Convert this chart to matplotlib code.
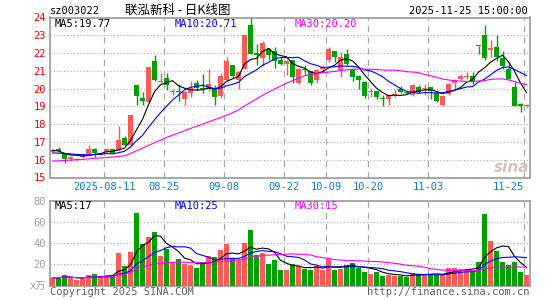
import numpy as np
import pandas as pd
import matplotlib
matplotlib.use("Agg")
import matplotlib.pyplot as plt

# 联泓新科 sz003022 daily candles, 2025-07-29 .. 2025-11-25 (80 trading days)
open_ = [16.45, 16.58, 16.35, 16.03, 15.99, 16.16, 16.32, 16.63, 16.30, 16.45,
         16.63, 16.53, 17.22, 16.85, 20.20, 19.47, 19.25, 21.55, 20.38, 20.60,
         19.82, 19.86, 19.40, 19.75, 20.32, 20.03, 20.00, 20.00, 19.60, 20.50,
         21.30, 20.50, 21.13, 23.60, 22.00, 21.70, 22.20, 22.10, 21.62, 21.40,
         21.60, 20.30, 21.13, 20.98, 20.48, 21.09, 21.60, 22.10, 21.04, 21.97,
         21.12, 20.70, 20.37, 19.82, 19.85, 19.46, 19.44, 19.64, 20.00, 19.79,
         19.62, 20.09, 20.00, 20.09, 19.77, 19.07, 19.72, 20.34, 20.56, 20.67,
         20.69, 22.40, 23.00, 22.16, 22.34, 21.70, 21.12, 20.10, 19.12, 19.00]
high = [16.60, 16.70, 16.37, 16.20, 16.08, 16.32, 16.82, 16.64, 16.40, 16.65,
        16.66, 17.88, 17.35, 18.52, 20.22, 19.81, 21.23, 21.90, 20.85, 20.85,
        20.00, 20.25, 19.85, 20.45, 20.50, 20.80, 21.10, 20.20, 20.85, 21.75,
        21.35, 21.00, 23.02, 23.95, 22.50, 22.65, 22.30, 22.35, 21.75, 21.62,
        21.62, 21.15, 21.30, 21.00, 21.10, 21.30, 22.35, 22.12, 22.05, 22.25,
        21.15, 20.75, 20.40, 20.05, 19.88, 19.62, 19.65, 19.90, 20.13, 19.85,
        20.28, 20.19, 20.28, 20.10, 19.80, 19.62, 20.30, 20.56, 20.84, 20.94,
        20.94, 22.41, 23.56, 22.72, 23.00, 22.10, 21.50, 20.37, 19.20, 19.12]
low = [16.42, 16.45, 15.82, 15.95, 15.92, 16.10, 16.30, 16.16, 16.25, 16.42,
       16.30, 16.50, 16.80, 16.80, 19.05, 19.06, 19.20, 20.45, 20.30, 19.90,
       19.65, 19.30, 19.05, 19.50, 19.90, 19.75, 19.85, 19.05, 19.45, 20.45,
       20.60, 20.00, 21.10, 21.95, 21.35, 21.25, 21.60, 21.15, 21.30, 20.75,
       20.30, 20.25, 20.76, 20.20, 20.30, 20.90, 21.50, 21.50, 20.65, 21.35,
       20.40, 20.00, 19.45, 19.50, 19.40, 19.00, 19.05, 19.53, 19.78, 19.70,
       19.60, 19.78, 19.62, 19.44, 19.25, 19.02, 19.62, 20.00, 20.47, 20.56,
       20.28, 21.97, 21.60, 21.80, 21.55, 21.12, 20.52, 19.00, 18.70, 18.95]
close = [16.55, 16.48, 16.03, 16.15, 16.05, 16.30, 16.63, 16.35, 16.38, 16.60,
         16.35, 17.10, 16.84, 18.52, 19.60, 19.30, 21.23, 20.50, 20.45, 20.20,
         19.86, 19.80, 19.80, 20.05, 20.06, 19.98, 20.25, 19.53, 20.70, 21.55,
         20.70, 20.93, 23.02, 21.97, 21.90, 22.57, 21.88, 21.55, 21.40, 21.55,
         20.68, 21.10, 21.04, 20.33, 21.04, 21.22, 22.20, 21.75, 21.80, 21.41,
         20.66, 20.47, 19.58, 19.88, 19.55, 19.42, 19.62, 19.68, 19.82, 19.76,
         20.19, 19.82, 20.05, 19.85, 19.30, 19.58, 20.28, 20.47, 20.69, 20.71,
         20.37, 22.38, 21.70, 22.27, 21.78, 21.25, 20.55, 19.03, 19.00, 19.05]
# volume, 万手
volume = [7.5, 7, 10, 7, 5.5, 7, 10, 11, 8, 9,
          8.5, 31, 18, 32, 69, 39, 46, 51, 28, 35,
          22, 25, 20, 19.5, 17, 22, 28, 27, 34, 39,
          25.5, 24, 40, 53, 29, 31, 20.5, 24, 15, 15,
          20.5, 18, 16, 15, 18, 15, 25, 15, 16, 19.5,
          21, 17, 13, 11, 13, 9, 10, 9, 9, 8.5,
          12, 11, 11, 11, 10, 10, 17, 17, 16, 15,
          13, 22, 68, 42, 33, 22, 19, 22, 13, 10]

# moving averages before enough history is on screen
ma5_head = [16.53, 16.49, 16.36, 16.26]
ma10_head = [16.38, 16.37, 16.35, 16.33, 16.30, 16.28, 16.28, 16.30, 16.30]
ma30_head = [15.92, 15.94, 15.96, 15.98, 16.00, 16.02, 16.05, 16.08, 16.10, 16.12,
             16.15, 16.18, 16.22, 16.35, 16.50, 16.65, 16.80, 16.95, 17.10, 17.25,
             17.38, 17.50, 17.63, 17.76, 17.88, 18.00, 18.13, 18.25, 18.37]

date_idx = [9, 19, 29, 39, 46, 53, 63, 79]
date_labels = ["2025-08-11", "08-25", "09-08", "09-22", "10-09", "10-20", "11-03", "11-25"]
price_ticks = list(range(15, 25))
vol_ticks = [0, 20, 40, 60, 80]
vol_tick_labels = ["x万", "20", "40", "60", "80"]
ma_labels = ["MA5:19.77", "MA10:20.71", "MA30:20.20"]
vol_ma_labels = ["MA5:17", "MA10:25", "MA30:15"]

W, H = 545, 300
RED = "#ff5a5a"
GREEN = "#00a000"
GRID = "#a8a8a8"
FRAME = "#9a9a9a"
MA_COLORS = ["black", "#0000ff", "#ff00ff"]
plt.rcParams["font.family"] = ["DejaVu Sans Mono", "Noto Sans CJK SC"]


def fx(px):
    return px / W


def fy(py):
    return 1 - py / H


def moving_averages(values, heads):
    s = pd.Series(values, dtype=float)
    out = []
    for n, head in zip([5, 10, 30], heads):
        m = s.rolling(n, min_periods=1).mean().to_numpy()
        if head is not None:
            m[:len(head)] = head
        out.append(m)
    return out


def style_axes(ax, yticks):
    for sp in ax.spines.values():
        sp.set_color(FRAME)
        sp.set_linewidth(1.2)
    for y in yticks[1:-1]:
        ax.axhline(y, color=GRID, ls=(0, (1, 2)), lw=0.8, zorder=1)
    for d in date_idx:
        ax.axvline(d, color=GRID, ls=(0, (5, 4)), lw=0.9, zorder=1)
    ax.set_xlim(0, 80)


o, h, l, c, v = map(np.array, (open_, high, low, close, volume))
n = len(c)
x = np.arange(n) + 5 / 12
cols = np.where(c >= o, RED, GREEN)

fig = plt.figure(figsize=(W / 100, H / 100), dpi=100)
ax = fig.add_axes([fx(50), fy(177.5), 480 / W, 160 / H])
axv = fig.add_axes([fx(50), fy(285.5), 480 / W, 84.5 / H])

# price panel
style_axes(ax, price_ticks)
ax.set_ylim(15, 24)
ax.vlines(x, l, h, colors=cols, lw=1, zorder=3)
ax.bar(x, np.maximum(np.abs(c - o), 0.05), 5 / 6, bottom=np.minimum(o, c),
       color=cols, lw=0, zorder=4)
for m, col in zip(moving_averages(c, [ma5_head, ma10_head, ma30_head]), MA_COLORS):
    ax.plot(x, m, color=col, lw=0.8, zorder=5)
ax.set_yticks(price_ticks)
ax.tick_params(axis="y", length=0, pad=3, labelcolor="red", labelsize=7.5)
ax.set_xticks(date_idx, date_labels)
ax.tick_params(axis="x", length=0, pad=3.5, labelcolor="#0a7fc9", labelsize=7.5)
ax.get_xticklabels()[-1].set_ha("right")

# volume panel
style_axes(axv, vol_ticks)
axv.set_ylim(0, 80)
axv.bar(x, v, 5 / 6, color=cols, lw=0, zorder=3)
for m, col in zip(moving_averages(v, [None, None, None]), MA_COLORS):
    axv.plot(x, m, color=col, lw=0.8, zorder=5)
axv.set_yticks(vol_ticks, vol_tick_labels)
axv.tick_params(axis="y", length=0, pad=3, labelcolor="#a0a0a0", labelsize=7.5)
axv.set_xticks([])

# texts
for i, (t, col) in enumerate(zip(ma_labels, MA_COLORS)):
    fig.text(fx(55 + 120 * i), fy(24), t, color=col, fontsize=7.5, va="center")
for i, (t, col) in enumerate(zip(vol_ma_labels, MA_COLORS)):
    fig.text(fx(55 + 120 * i), fy(206), t, color=col, fontsize=7.5, va="center")
fig.text(fx(50), fy(11), "sz003022", fontsize=7.5, va="center")
fig.text(fx(178), fy(10.5), "联泓新科 - 日K线图", fontsize=9, ha="center", va="center",
         family=["Noto Sans CJK SC", "DejaVu Sans"])
fig.text(fx(528), fy(11), "2025-11-25 15:00:00", fontsize=7.5, ha="right", va="center")
fig.text(fx(50), fy(292), "Copyright 2025 SINA.COM", fontsize=7.5, color="#606060", va="center")
fig.text(fx(529), fy(292), "http://finance.sina.com.cn", fontsize=7.5, color="#606060",
         ha="right", va="center")
fig.text(fx(512), fy(167), "sina", fontsize=11, color="#d2c4c4", style="italic",
         weight="bold", ha="center", va="center", family="DejaVu Sans")

fig.savefig("out.png", dpi=100)
